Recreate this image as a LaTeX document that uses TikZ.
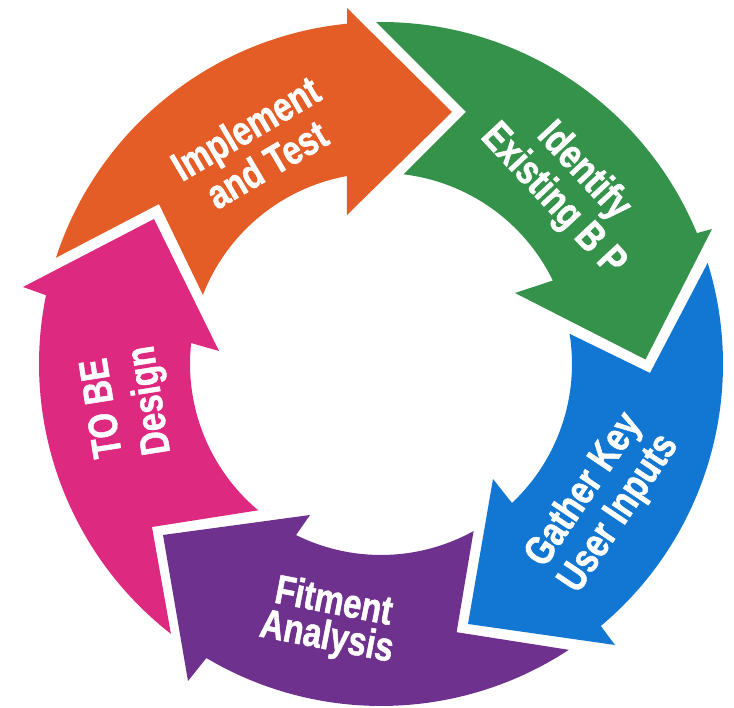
\documentclass[tikz,border=0pt]{standalone}
\usepackage{fontspec}
\setmainfont{Liberation Sans}
\newfontfamily\stepfont[FakeStretch=0.8, FakeBold=1.2]{Liberation Sans}

\definecolor{tobepink}{RGB}{221,42,128}
\definecolor{implorange}{RGB}{229,93,38}
\definecolor{identgreen}{RGB}{53,146,74}
\definecolor{gatherblue}{RGB}{18,119,211}
\definecolor{fitpurple}{RGB}{110,49,141}

\tikzset{
    steplabel/.style={text=white, align=center, inner sep=0pt,
        font=\stepfont\bfseries\fontsize{41}{42}\selectfont},
}

\begin{document}
\begin{tikzpicture}[x=1pt, y=1pt]
            \useasboundingbox (-381,-344) rectangle (353,364);

            % TO BE Design
            \fill[tobepink] (232.1:342) arc[start angle=232.1, end angle=168.4, radius=342]
                -- (-358,77) -- (-227,145) -- (-162,13)
                -- (173.7:191) arc[start angle=173.7, end angle=230, radius=191]
                -- (-229,-163) -- cycle;
            % Implement and Test
            \fill[implorange] (161.9:342) arc[start angle=161.9, end angle=95.7, radius=342]
                -- (-34,356) -- (71,252) -- (-34,149)
                -- (100.3:191) arc[start angle=100.3, end angle=158.8, radius=191]
                -- (-222,160) -- cycle;
            % Identify Existing B P
            \fill[identgreen] (90.8:342) arc[start angle=90.8, end angle=22.5, radius=342]
                -- (331,135) -- (264.5,4.5) -- (134,71)
                -- (25.9:191) arc[start angle=25.9, end angle=83.2, radius=191]
                -- (85,252) -- cycle;
            % Gather Key User Inputs
            \fill[gatherblue] (17.2:342) arc[start angle=17.2, end angle=-50, radius=342]
                -- (234,-281) -- (87,-260) -- (112,-115)
                -- (-46.7:191) arc[start angle=-46.7, end angle=9.1, radius=191]
                -- (269,-9) -- cycle;
            % Fitment Analysis
            \fill[fitpurple] (-56.7:342) arc[start angle=-56.7, end angle=-120.7, radius=342]
                -- (-193,-317) -- (-218,-171) -- (-71,-151)
                -- (-116.4:191) arc[start angle=-116.4, end angle=-61, radius=191]
                -- (75.6,-268.2) -- cycle;

            \node[steplabel, rotate=99] (tobe) at (-253,-40) {TO BE\\[6pt]Design};
            \node[steplabel, rotate=30.5] (implement) at (-125,218) {Implement\\and Test};
            \node[steplabel, rotate=-47] (identify) at (187,178) {Identify\\Existing B P};
            \node[steplabel, rotate=56] (gather) at (221,-138) {Gather Key\\User Inputs};
            \node[steplabel, rotate=-11] (fitment) at (-51,-257) {Fitment\\[-6pt]Analysis};
        \end{tikzpicture}
\end{document}
